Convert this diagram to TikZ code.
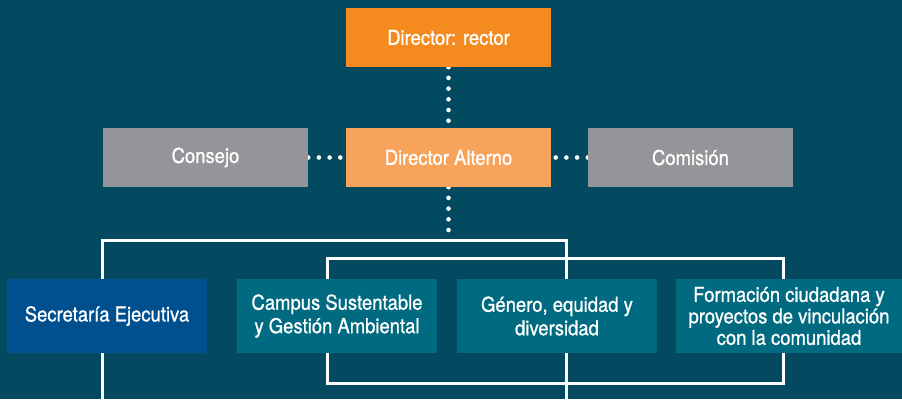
\documentclass[tikz,border=0pt]{standalone}
\usepackage{fontspec}
\setmainfont{TeX Gyre Heros}[FakeStretch=0.9, FakeBold=0.9]
\pgfdeclarelayer{bg}
\pgfdeclarelayer{lines}
\pgfsetlayers{bg,lines,main}
\definecolor{bgblue}{HTML}{034A60}
\definecolor{orangeA}{HTML}{F58A1F}
\definecolor{orangeB}{HTML}{F7A35C}
\definecolor{greyC}{HTML}{939598}
\definecolor{blueS}{HTML}{00508F}
\definecolor{tealT}{HTML}{006A80}
\tikzset{
  box/.style={inner sep=0pt, align=center, text=white,
    font=\fontsize{20.5}{23.5}\selectfont},
  topbox/.style={box, minimum width=205pt, minimum height=59pt},
  lowbox/.style={box, minimum width=200pt, minimum height=74pt, fill=tealT},
  dots/.style={white, line width=4.6pt, line cap=round, dash pattern=on 0pt off 10.7pt},
  frame/.style={white, line width=3pt}
}
\begin{document}
\begin{tikzpicture}[x=1pt, y=-1pt]
\begin{pgfonlayer}{bg}
\fill[bgblue] (0,0) rectangle (902,399);
\end{pgfonlayer}
\useasboundingbox (0,0) rectangle (902,399);

\node[topbox, fill=orangeA] (dr) at (448.5,37.5) {Director: rector};
\node[topbox, fill=orangeB] (da) at (448.5,157.5) {Director Alterno};
\node[topbox, fill=greyC] (cons) at (205.5,157.5) {Consejo};
\node[topbox, fill=greyC] (com) at (690.5,157.5) {Comisión};

\node[lowbox, fill=blueS] (sec) at (107,316) {Secretaría Ejecutiva};
\node[lowbox] (cam) at (337,316) {Campus Sustentable\\y Gestión Ambiental};
\node[lowbox] (gen) at (557,316) {Género, equidad y\\diversidad};
\node[lowbox, minimum width=226pt, font=\fontsize{20.5}{21.5}\selectfont] (for) at (789,316) {Formación ciudadana y\\proyectos de vinculación\\con la comunidad};

\coordinate (ftop) at (448.5,240);
\coordinate (f1a) at (102,399);
\coordinate (f1b) at (102,240);
\coordinate (f1c) at (566,240);
\coordinate (f1d) at (566,399);
\coordinate (f2a) at (327,258);
\coordinate (f2b) at (783,383);

\begin{pgfonlayer}{lines}
\draw[frame] (f1a) -- (f1b) -- (f1c) -- (f1d);
\draw[frame] (f2a) rectangle (f2b);
\draw[dots] (dr.south) -- (da.north);
\draw[dots] (da.south) -- (ftop);
\draw[dots] (cons.east) -- (da.west);
\draw[dots] (com.west) -- (da.east);
\end{pgfonlayer}
\end{tikzpicture}
\end{document}
